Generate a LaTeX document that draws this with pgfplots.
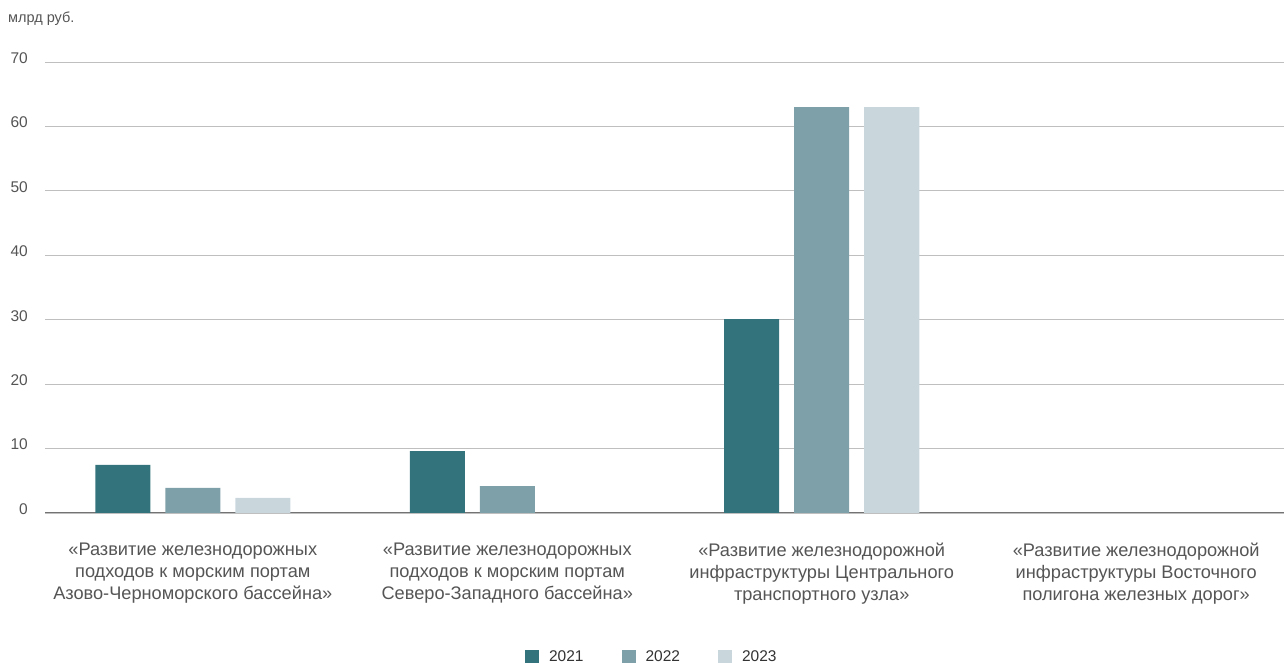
\documentclass[border=0pt]{standalone}
\usepackage{fontspec}
\setmainfont{Liberation Sans}
\usepackage{pgfplots}
\pgfplotsset{compat=1.18}
\definecolor{c21}{HTML}{33737C}
\definecolor{c22}{HTML}{7EA0A8}
\definecolor{c23}{HTML}{C9D7DD}
\definecolor{txt}{HTML}{555555}
\definecolor{grid}{HTML}{A8A8A8}
\begin{document}
\begin{tikzpicture}[x=1pt,y=1pt]
\path[use as bounding box] (0,0) rectangle (1284,663);
\begin{axis}[
  at={(45pt,150pt)}, anchor=south west,
  scale only axis, width=1239pt, height=451pt,
  ybar=15pt, bar width=55pt,
  xmin=-0.47, xmax=3.47, ymin=0, ymax=70,
  ytick={0,10,...,70},
  xtick={0,1,2,3},
  xticklabels={
    {«Развитие железнодорожных\\подходов к морским портам\\Азово-Черноморского бассейна»},
    {«Развитие железнодорожных\\подходов к морским портам\\Северо-Западного бассейна»},
    {«Развитие железнодорожной\\инфраструктуры Центрального\\транспортного узла»},
    {«Развитие железнодорожной\\инфраструктуры Восточного\\полигона железных дорог»}},
  xticklabel style={align=center, font=\fontsize{18.2}{22}\selectfont, text=txt, anchor=north, inner sep=0pt, yshift=-30pt},
  yticklabel style={font=\fontsize{15.5}{17}\selectfont, text=txt, anchor=east, inner sep=0pt, xshift=-17pt, yshift=4pt},
  /pgf/number format/assume math mode=true,
  axis x line*=bottom, axis y line*=left,
  y axis line style={draw=none},
  x axis line style={draw=black!55, line width=1pt, -},
  major tick length=0pt,
  xmajorgrids=false, ymajorgrids=true, grid style={grid, line width=0.8pt},
  legend style={at={(0.493,-0.319)}, anchor=center, draw=none, legend columns=3,
    font=\fontsize{15.5}{18}\selectfont, text=black!80,
    nodes={inner xsep=10pt},
    /tikz/every even column/.append style={column sep=28pt}},
  legend image code/.code={\fill[#1] (0pt,-7pt) rectangle (14pt,7pt);},
  clip=false,
]
\addplot[fill=c21, draw=none] coordinates {(0,7.45) (1,9.62) (2,30.1)};
\addplot[fill=c22, draw=none] coordinates {(0,3.88) (1,4.19) (2,63.0)};
\addplot[fill=c23, draw=none] coordinates {(0,2.33) (2,63.0)};
\legend{2021,2022,2023}
\end{axis}
\node[anchor=west, font=\fontsize{14.5}{17}\selectfont, text=txt, inner sep=0pt] at (8,644) {млрд руб.};
\end{tikzpicture}
\end{document}
